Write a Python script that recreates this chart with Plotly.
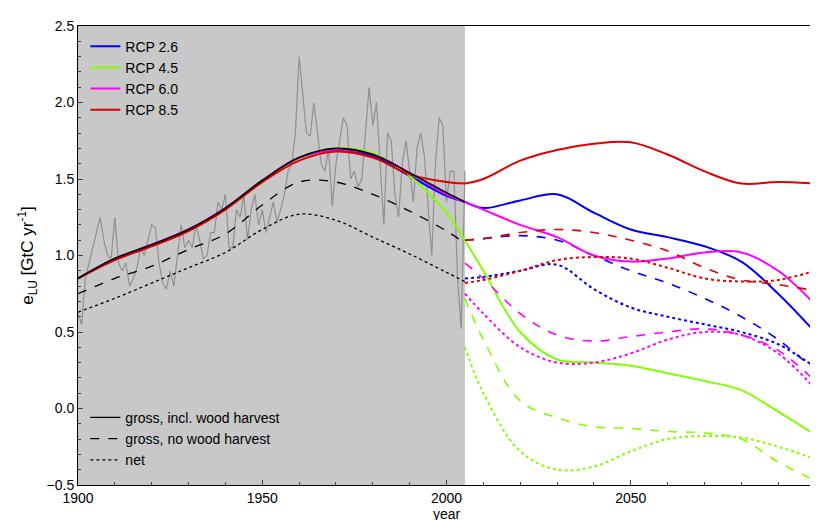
import plotly.graph_objects as go

# historical annual land-use emissions (grey), 1900-2005
hist_years = list(range(1900, 2006))
hist_vals = [0.62, 0.55, 0.85, 0.95, 1.05, 1.15, 1.25, 1.10, 1.00, 0.98, 1.25, 0.95, 0.90, 0.95, 0.80,
             0.85, 0.92, 1.05, 1.00, 1.10, 1.20, 1.18, 0.95, 0.82, 0.78, 0.90, 0.80, 1.00, 1.20, 1.05,
             1.10, 1.05, 1.20, 1.10, 0.98, 1.00, 1.15, 1.15, 1.35, 1.30, 1.40, 1.05, 1.05, 1.30, 1.25,
             1.40, 1.10, 1.30, 1.40, 1.20, 1.30, 1.15, 1.25, 1.35, 1.22, 1.30, 1.40, 1.55, 1.60, 1.80,
             2.30, 2.05, 1.80, 1.78, 2.00, 1.80, 1.60, 1.55, 1.70, 1.32, 1.60, 1.75, 1.90, 1.85, 1.50,
             1.55, 1.45, 1.50, 1.80, 2.10, 1.85, 2.00, 1.60, 1.20, 1.80, 1.75, 1.40, 1.25, 1.60, 1.75,
             1.55, 1.35, 1.70, 1.80, 1.65, 1.30, 1.00, 1.60, 1.90, 1.85, 1.35, 1.55, 1.55, 0.85, 0.52, 1.55]

# smooth historical curves (black), 1900-2005
sm_years = [1900, 1910, 1920, 1930, 1940, 1950, 1960, 1970, 1980, 1990, 2000, 2005]
gross_wh = [0.85, 0.98, 1.07, 1.17, 1.31, 1.49, 1.64, 1.70, 1.66, 1.54, 1.41, 1.35]
gross_nowh = [0.75, 0.85, 0.93, 1.04, 1.14, 1.33, 1.48, 1.48, 1.40, 1.29, 1.16, 1.08]
net = [0.63, 0.72, 0.82, 0.92, 1.02, 1.17, 1.27, 1.23, 1.12, 1.01, 0.89, 0.83]

# scenario curves, 2005-2100
fut_years = [2005, 2010, 2020, 2030, 2040, 2050, 2060, 2070, 2080, 2090, 2100]
scenarios = {
    "RCP 2.6": {
        "color": "#0000ff",
        "gross": [1.35, 1.31, 1.36, 1.40, 1.28, 1.17, 1.12, 1.06, 0.96, 0.75, 0.50],
        "nowh": [1.10, 1.11, 1.13, 1.10, 1.00, 0.90, 0.82, 0.72, 0.60, 0.45, 0.25],
        "net": [0.85, 0.86, 0.90, 0.94, 0.78, 0.66, 0.60, 0.55, 0.50, 0.42, 0.27],
    },
    "RCP 4.5": {
        "color": "#80ff00",
        "gross": [1.10, 0.90, 0.50, 0.32, 0.30, 0.28, 0.23, 0.18, 0.12, -0.02, -0.17],
        "nowh": [0.72, 0.45, 0.05, -0.06, -0.12, -0.13, -0.15, -0.16, -0.20, -0.35, -0.47],
        "net": [0.40, 0.10, -0.28, -0.40, -0.38, -0.28, -0.20, -0.18, -0.19, -0.25, -0.33],
    },
    "RCP 6.0": {
        "color": "#ff00ff",
        "gross": [1.35, 1.30, 1.20, 1.12, 1.00, 0.96, 0.98, 1.02, 1.02, 0.90, 0.68],
        "nowh": [0.95, 0.85, 0.62, 0.48, 0.44, 0.47, 0.50, 0.52, 0.48, 0.38, 0.18],
        "net": [0.75, 0.62, 0.40, 0.30, 0.30, 0.36, 0.45, 0.50, 0.48, 0.36, 0.13],
    },
    "RCP 8.5": {
        "color": "#e00000",
        "gross": [1.47, 1.50, 1.62, 1.69, 1.73, 1.74, 1.66, 1.55, 1.47, 1.48, 1.47],
        "nowh": [1.10, 1.11, 1.15, 1.17, 1.15, 1.10, 1.03, 0.92, 0.84, 0.81, 0.77],
        "net": [0.82, 0.84, 0.90, 0.97, 0.99, 0.98, 0.92, 0.85, 0.83, 0.84, 0.90],
    },
}
# historical part of each scenario's gross curve (diverging before 2005)
tail_years = [1900, 1910, 1920, 1930, 1940, 1950, 1960, 1970, 1980, 1990, 2000, 2005]
tails = {
    "RCP 2.6": [0.85, 0.98, 1.07, 1.17, 1.31, 1.49, 1.64, 1.69, 1.65, 1.52, 1.39, 1.35],
    "RCP 4.5": [0.85, 0.98, 1.07, 1.17, 1.31, 1.49, 1.64, 1.70, 1.67, 1.52, 1.28, 1.10],
    "RCP 6.0": [0.85, 0.98, 1.07, 1.17, 1.31, 1.49, 1.64, 1.69, 1.66, 1.54, 1.40, 1.35],
    "RCP 8.5": [0.85, 0.97, 1.06, 1.16, 1.30, 1.48, 1.62, 1.68, 1.64, 1.53, 1.48, 1.47],
}

fig = go.Figure()
fig.add_vrect(x0=1900, x1=2005, fillcolor="#c8c8c8", line_width=0, layer="below")

fig.add_trace(go.Scatter(x=hist_years, y=hist_vals, mode="lines",
                         line=dict(color="#909090", width=1.2), showlegend=False))

for name, s in scenarios.items():
    c = s["color"]
    fig.add_trace(go.Scatter(x=tail_years, y=tails[name], mode="lines",
                             line=dict(color=c, width=2, shape="spline"), showlegend=False))
    fig.add_trace(go.Scatter(x=fut_years, y=s["gross"], mode="lines", name=name,
                             line=dict(color=c, width=2, shape="spline")))
    fig.add_trace(go.Scatter(x=fut_years, y=s["nowh"], mode="lines", showlegend=False,
                             line=dict(color=c, width=1.6, dash="dash", shape="spline")))
    fig.add_trace(go.Scatter(x=fut_years, y=s["net"], mode="lines", showlegend=False,
                             line=dict(color=c, width=2, dash="dot", shape="spline")))

fig.add_trace(go.Scatter(x=sm_years, y=gross_wh, mode="lines", showlegend=False,
                         line=dict(color="black", width=1.6, shape="spline")))
fig.add_trace(go.Scatter(x=sm_years, y=gross_nowh, mode="lines", showlegend=False,
                         line=dict(color="black", width=1.3, dash="dash", shape="spline")))
fig.add_trace(go.Scatter(x=sm_years, y=net, mode="lines", showlegend=False,
                         line=dict(color="black", width=1.3, dash="dot", shape="spline")))

# line-style legend (lower left)
for label, dash in [("gross, incl. wood harvest", "solid"), ("gross, no wood harvest", "dash"), ("net", "dot")]:
    fig.add_trace(go.Scatter(x=[None], y=[None], mode="lines", name=label, legend="legend2",
                             line=dict(color="black", width=1.3, dash=dash)))

axis = dict(showline=True, linecolor="black", linewidth=1, mirror=True, ticks="inside",
            showgrid=False, zeroline=False, tickfont=dict(size=14))
fig.update_layout(
    width=818, height=520, plot_bgcolor="white", paper_bgcolor="white",
    font=dict(family="Liberation Sans, Arial", size=14, color="black"),
    margin=dict(l=70, r=10, t=12, b=32),
    xaxis=dict(axis, range=[1900, 2100], tickvals=[1900, 1950, 2000, 2050, 2100],
               title=dict(text="year", standoff=2, font=dict(size=14)),
               minor=dict(ticks="inside", ticklen=3, dtick=10)),
    yaxis=dict(axis, range=[-0.5, 2.5], dtick=0.5, tickformat=".1f",
               title=dict(text="e<sub>LU</sub> [GtC yr<sup>-1</sup>]", standoff=8),
               minor=dict(ticks="inside", ticklen=3, dtick=0.1)),
    legend=dict(x=0.01, y=0.99, bgcolor="rgba(0,0,0,0)", font=dict(size=14), tracegroupgap=4),
    legend2=dict(x=0.01, y=0.02, yanchor="bottom", bgcolor="rgba(0,0,0,0)", font=dict(size=14)),
)
fig.write_html("out.html")
